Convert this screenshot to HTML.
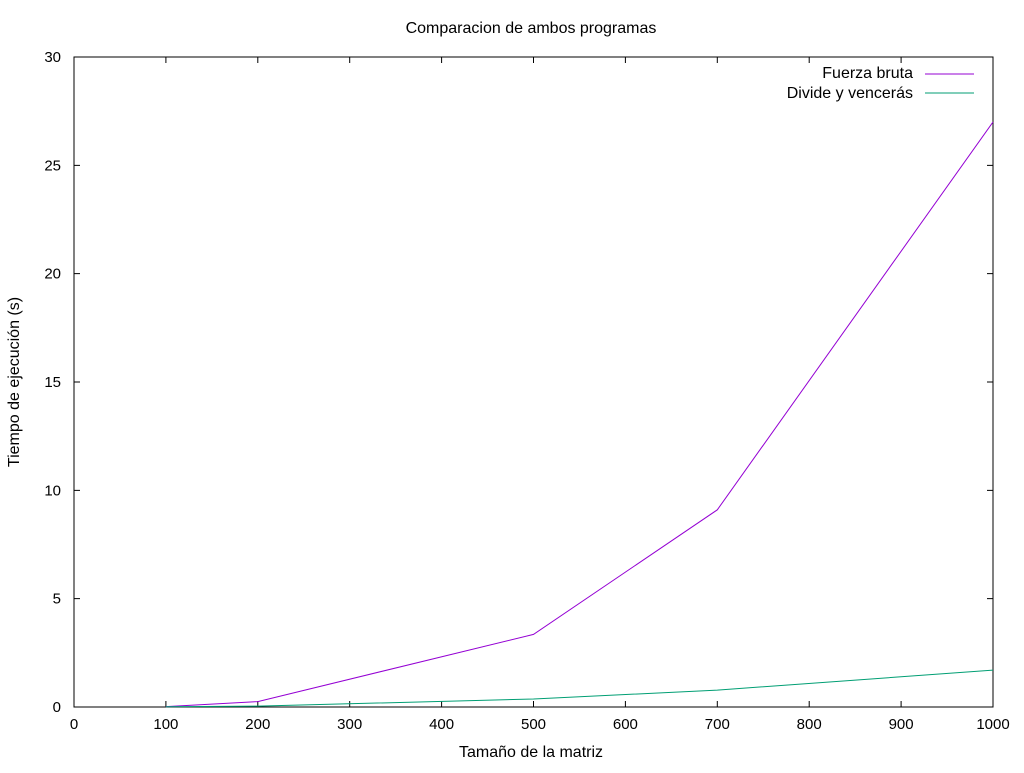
<!DOCTYPE html>
<html><head><meta charset="utf-8"><style>
body{margin:0;background:#fff}
svg text{font-family:"Liberation Sans",sans-serif;font-size:15px;fill:#000}
svg text.big{font-size:16px}
</style></head><body>
<svg id="c" width="1024" height="768"></svg>
<script>
const xs=[100,200,500,700,1000];
const fuerza=[0.02,0.25,3.35,9.1,27.0];
const divide=[0.01,0.04,0.37,0.78,1.7];
const xTicks=[0,100,200,300,400,500,600,700,800,900,1000];
const yTicks=[0,5,10,15,20,25,30];
const L=74,R=993,T=57,B=707;
const sx=v=>L+(R-L)*v/1000, sy=v=>B-(B-T)*v/30;
const svg=document.getElementById('c');const NS='http://www.w3.org/2000/svg';
function mk(t,a,p){const e=document.createElementNS(NS,t);for(const k in a)e.setAttribute(k,a[k]);(p||svg).appendChild(e);return e;}
const frame=mk('rect',{x:L,y:T,width:R-L,height:B-T,fill:'none',stroke:'#000','stroke-width':1});


xTicks.forEach(v=>{const x=sx(v);
 const t=mk('path',{d:`M${x},${B}v-6M${x},${T}v6`,stroke:'#000'});
 
 
 const l=mk('text',{x:x,y:B+22,'text-anchor':'middle'});l.textContent=v;
 
 });
yTicks.forEach(v=>{const y=sy(v);
 const t=mk('path',{d:`M${L},${y}h6M${R},${y}h-6`,stroke:'#000'});
 
 
 const l=mk('text',{x:L-13,y:y+5,'text-anchor':'end'});l.textContent=v;
 
 });
function series(arr,color,name){
 const p=mk('polyline',{points:xs.map((x,i)=>sx(x)+','+sy(arr[i])).join(' '),fill:'none',stroke:color,'stroke-width':1});
 
 }
series(fuerza,'#9400d3','fuerza-bruta-line');
series(divide,'#009e73','divide-venceras-line');
function txt(s,a,name){a.class='big';const e=mk('text',a);e.textContent=s;
 
 return e;}
txt('Comparacion de ambos programas',{x:531,y:33,'text-anchor':'middle'},'chart-title');
txt('Tamaño de la matriz',{x:531,y:757,'text-anchor':'middle'},'x-axis-title');
txt('Tiempo de ejecución (s)',{x:19,y:382,'text-anchor':'middle',transform:'rotate(-90 19 382)'},'y-axis-title');
txt('Fuerza bruta',{x:913,y:78,'text-anchor':'end'},'legend-label-fuerza');
txt('Divide y vencerás',{x:913,y:98,'text-anchor':'end'},'legend-label-divide');
const l1=mk('line',{x1:925,x2:974,y1:74,y2:74,stroke:'#9400d3'});


const l2=mk('line',{x1:925,x2:974,y1:93,y2:93,stroke:'#009e73'});


</script></body></html>
